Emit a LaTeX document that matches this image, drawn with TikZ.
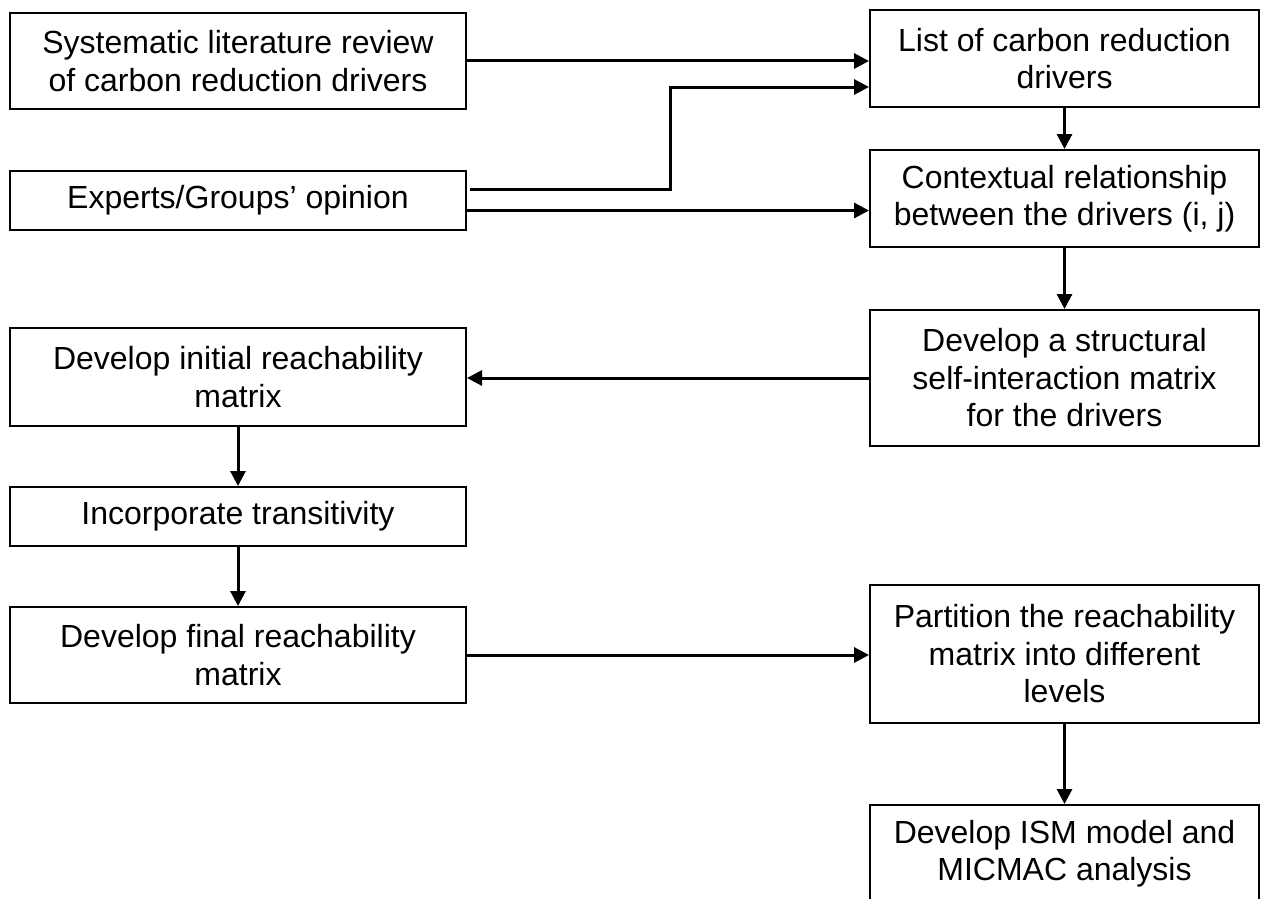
\documentclass[tikz,border=0pt]{standalone}
\usepackage{fontspec}
\setmainfont{Liberation Sans}
\usetikzlibrary{arrows.meta}

\begin{document}
\begin{tikzpicture}[x=1pt,y=-1pt,
  stage/.style={draw,line width=2pt,align=center,inner sep=0pt,font=\fontsize{32}{37.5}\selectfont},
  wide/.style={stage,minimum width=456pt},
  narrow/.style={stage,minimum width=389pt},
  flow/.style={->,line width=3pt},
  >={Triangle[length=15pt,width=15pt]}]
  \useasboundingbox (0,0) rectangle (1261,899);
  \clip (0,0) rectangle (1261,899);
  \node[wide,minimum height=96pt] (lit) at (238,61) {Systematic literature review\\of carbon reduction drivers};
  \node[wide,minimum height=59pt] (experts) at (238,200.5) {Experts/Groups’ opinion};
  \node[wide,minimum height=98pt] (irm) at (238,377) {Develop initial reachability\\matrix};
  \node[wide,minimum height=59pt] (trans) at (238,516.5) {Incorporate transitivity};
  \node[wide,minimum height=96pt] (frm) at (238,655) {Develop final reachability\\matrix};
  \node[narrow,minimum height=97pt] (list) at (1064.5,58.5) {List of carbon reduction\\drivers};
  \node[narrow,minimum height=97pt] (ctx) at (1064.5,198.5) {Contextual relationship\\between the drivers (i, j)};
  \node[narrow,minimum height=136pt] (ssim) at (1064.5,378) {Develop a structural\\self-interaction matrix\\for the drivers};
  \node[narrow,minimum height=138pt] (part) at (1064.5,654) {Partition the reachability\\matrix into different\\levels};
  \node[narrow,minimum height=97pt] (ism) at (1064.5,853.5) {Develop ISM model and\\MICMAC analysis};
  \coordinate (bend) at (670,189);
  \coordinate (rise) at (670,87);
  \coordinate (low) at (0,210.5);
  \draw[flow] (lit.east) -- (lit.east -| list.west);
  \draw[flow,shorten <=3pt] (experts.east |- bend) -- (bend) -- (rise) -- (rise -| list.west);
  \draw[flow] (experts.east |- low) -- (ctx.west |- low);
  \draw[flow] (list) -- (ctx);
  \draw[flow] (ctx) -- (ssim);
  \draw[flow] (ssim.west) -- (ssim.west -| irm.east);
  \draw[flow] (irm) -- (trans);
  \draw[flow] (trans) -- (frm);
  \draw[flow] (frm.east) -- (frm.east -| part.west);
  \draw[flow] (part) -- (ism);
\end{tikzpicture}
\end{document}
